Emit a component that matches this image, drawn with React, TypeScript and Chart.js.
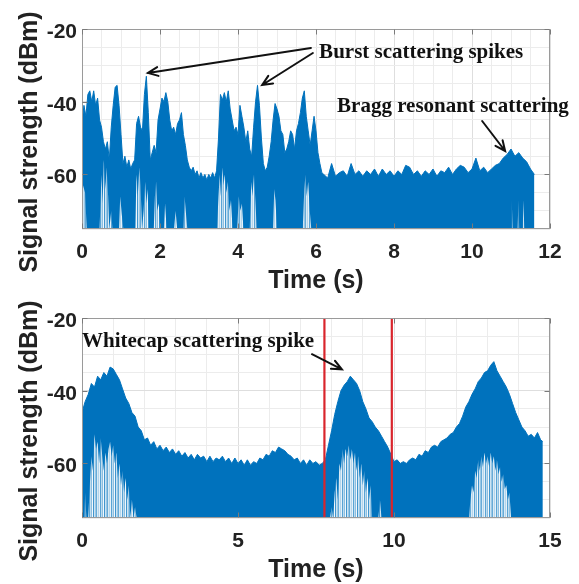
import React, { useEffect, useRef } from "react";
import { Chart, registerables } from "chart.js";

Chart.register(...registerables);

// ---------------- shared axis values ----------------
const Y_MIN = -75;
const Y_MAX = -20;
const Y_STEP = 5;
const Y_TICK_LABELS = [-20, -40, -60];

// ---------------- top panel ----------------
const TOP_X_MAX = 12;
const TOP_X_STEP = 0.5;
const TOP_X_TICK_LABELS = [0, 2, 4, 6, 8, 10, 12];

// upper envelope of the received signal, burst part (0 s .. 6.2 s every 0.05 s)
const topBurstStart = 0;
const topBurstStep = 0.05;
const topBurstUpper = [
  -46, -41, -44, -38, -37, -40, -37, -41, -39, -45,
  -47, -51, -53, -51, -56, -47, -41, -36, -35.5, -41,
  -49, -57, -55, -58, -56, -58.5, -57, -56, -46, -44,
  -47, -48, -38, -33, -43, -56, -54, -52, -54, -45,
  -42, -39, -40, -37.5, -40, -45, -48, -47, -49, -46,
  -45, -43, -49, -52, -56, -58, -59, -58, -60, -59,
  -61, -59.5, -61, -60, -61.5, -60, -61, -59.5, -61, -59,
  -50, -38, -39.5, -37.5, -40, -37, -42, -45, -48, -47,
  -49, -41, -44, -47, -51, -48, -53, -55, -47, -40,
  -35.5, -41, -50, -57, -59, -58, -55, -51, -45, -40.5,
  -42, -44, -48, -49, -54, -53, -51, -48, -49, -53,
  -48, -46, -43, -39, -37, -44, -48, -52, -48, -44,
  -48, -54, -57, -59.5, -60,
];

// upper envelope, Bragg part (6.3 s .. 11.6 s every 0.1 s)
const topFlatStart = 6.3;
const topFlatStep = 0.1;
const topFlatUpper = [
  -61, -57, -60.5, -59.5, -59, -60.5, -57, -60, -59, -60.5,
  -59, -60, -58.5, -60.5, -58.5, -60, -59, -60.5, -59, -60,
  -57.5, -58, -60, -59, -60.5, -59, -60, -58.5, -60.5, -59,
  -59.5, -58, -60, -58.5, -57.5, -58, -59.5, -58.5, -55.5, -59,
  -58, -59.5, -58.5, -57.5, -57, -55.5, -54.5, -53, -55, -54,
  -55.5, -56.5, -58.5, -60,
];

// level under which the trace becomes sparse (light streaks), [time, dBm]
const topSparse = [
  [0, -62], [0.08, -65], [0.12, -75], [0.45, -75], [0.5, -60], [0.53, -68], [0.56, -56],
  [0.6, -64], [0.63, -58], [0.67, -66], [0.7, -75], [0.75, -70], [0.78, -75], [0.95, -75],
  [0.98, -66], [1.02, -71], [1.06, -75], [1.36, -75], [1.4, -60], [1.43, -66], [1.47, -58],
  [1.5, -63], [1.54, -75], [1.58, -70], [1.62, -62], [1.65, -68], [1.68, -64], [1.72, -75],
  [1.84, -75], [1.87, -66], [1.9, -62], [1.93, -70], [1.97, -68], [2.0, -75], [2.1, -75],
  [2.13, -68], [2.17, -75], [2.36, -75], [2.4, -70], [2.44, -75], [2.6, -75], [2.63, -66],
  [2.66, -70], [2.7, -75], [3.46, -75], [3.5, -66], [3.53, -60], [3.56, -66], [3.6, -58],
  [3.63, -63], [3.66, -60], [3.7, -65], [3.74, -62], [3.78, -70], [3.82, -67], [3.86, -75],
  [3.98, -75], [4.02, -66], [4.06, -70], [4.1, -68], [4.14, -75], [4.3, -75], [4.34, -62],
  [4.37, -66], [4.41, -60], [4.45, -68], [4.48, -75], [4.9, -75], [4.93, -64], [4.96, -67],
  [5.0, -75], [5.66, -75], [5.7, -64], [5.73, -60], [5.76, -66], [5.8, -62], [5.84, -70],
  [5.88, -75], [11.0, -75], [11.02, -67], [11.04, -75], [11.17, -75], [11.19, -67],
  [11.21, -75], [11.3, -75], [11.32, -67], [11.34, -75], [11.62, -75],
];

// ---------------- bottom panel ----------------
const BOT_X_MAX = 15;
const BOT_X_STEP = 1;
const BOT_X_TICK_LABELS = [0, 5, 10, 15];

// upper envelope (0 s .. 14.7 s every 0.1 s)
const bottomStart = 0;
const bottomStep = 0.1;
const bottomUpper = [
  -46, -43, -41, -38, -39, -36, -37, -35, -36, -33.5,
  -34, -35.5, -37, -39.5, -42, -43.5, -46, -47, -50, -51,
  -53.5, -53, -55, -54, -56, -55, -56.5, -55.5, -57, -56,
  -57.5, -56.5, -58, -57, -58.5, -57.5, -59, -57.5, -58.5, -58,
  -59.5, -58, -59.5, -58.5, -59, -58, -59.5, -58.5, -60, -58.5,
  -60, -59, -60.5, -59, -60.5, -59.5, -60, -58.5, -59, -57.5,
  -58, -56.5, -57, -55.5, -56, -56.5, -57.5, -58, -59, -58.5,
  -60, -59, -60.5, -59, -60, -59.5, -60.5, -60, -59, -55,
  -51, -46.5, -43, -40, -38.5, -37.5, -36, -37, -38, -40,
  -43, -45, -47.5, -48.5, -50, -51, -52.5, -54, -55.5, -57.5,
  -59.5, -59, -60, -59.5, -60, -59, -58.5, -59, -57.5, -58,
  -56.5, -57, -55.5, -55, -55.5, -54, -53.5, -53, -52, -51.5,
  -50, -49, -47, -44.5, -43, -41, -39.5, -37.5, -36.5, -35,
  -34.5, -33, -32, -34.5, -36, -37.5, -39, -41, -43.5, -46,
  -48, -50, -51, -52.5, -52, -53, -51.5, -53.5,
];
const bottomLast = [14.77, -54];

const bottomSparse = [
  [0, -75], [0.08, -75], [0.1, -68], [0.14, -75], [0.2, -75], [0.25, -66], [0.3, -58],
  [0.35, -62], [0.4, -52], [0.45, -56], [0.5, -54], [0.55, -60], [0.6, -53], [0.65, -58],
  [0.7, -62], [0.75, -57], [0.8, -60], [0.85, -56], [0.9, -54], [0.95, -58], [1.0, -55],
  [1.05, -60], [1.1, -57], [1.15, -64], [1.2, -60], [1.25, -66], [1.3, -62], [1.35, -68],
  [1.4, -64], [1.45, -70], [1.5, -66], [1.55, -75], [1.6, -70], [1.65, -75], [1.7, -72],
  [1.75, -75], [7.95, -75], [8.0, -72], [8.05, -75], [8.1, -68], [8.15, -64], [8.2, -70],
  [8.25, -60], [8.3, -62], [8.35, -56], [8.4, -60], [8.45, -56], [8.5, -58], [8.55, -55],
  [8.6, -59], [8.65, -56], [8.7, -60], [8.75, -57], [8.8, -62], [8.85, -58], [8.9, -64],
  [8.95, -60], [9.0, -66], [9.05, -62], [9.1, -68], [9.15, -64], [9.2, -70], [9.25, -66],
  [9.3, -75], [9.5, -75], [9.55, -70], [9.6, -75], [12.4, -75], [12.45, -70], [12.5, -66],
  [12.55, -68], [12.6, -62], [12.65, -64], [12.7, -59], [12.75, -62], [12.8, -58],
  [12.85, -61], [12.9, -57], [12.95, -60], [13.0, -58], [13.05, -61], [13.1, -57],
  [13.15, -60], [13.2, -58], [13.25, -62], [13.3, -59], [13.35, -63], [13.4, -61],
  [13.45, -65], [13.5, -63], [13.55, -67], [13.6, -66], [13.65, -70], [13.7, -68],
  [13.75, -75], [14.77, -75],
];

// window markers (s)
const bottomMarkers = [7.77, 9.93];

// ---------------- styling ----------------
const BLUE = "#0072BD";
const RED = "#D9252C";
const SANS = "'Liberation Sans', Arial, sans-serif";
const SERIF = "'Liberation Serif', 'Times New Roman', serif";
const W = 579;
const PLOT_LEFT = 82;
const PLOT_RIGHT = 550;
const PLOT_TOP = 29;
const PLOT_BOTTOM = 229;

const seq = (start: number, step: number, vals: number[]) =>
  vals.map((v, i) => ({ x: +(start + i * step).toFixed(3), y: v }));
const pairs = (list: number[][]) => list.map(([x, y]) => ({ x, y }));

// streaky whitish texture for the sparse (thin-trace) part of the signal
function makeStreakPattern(ctx: CanvasRenderingContext2D) {
  const c = document.createElement("canvas");
  const alphas = [0.9, 0.35, 0.75, 0.55, 0.95, 0.25, 0.8, 0.6, 0.4, 0.85, 0.7];
  c.width = alphas.length;
  c.height = 1;
  const pc = c.getContext("2d")!;
  alphas.forEach((a, i) => {
    pc.fillStyle = `rgba(255,255,255,${a})`;
    pc.fillRect(i, 0, 1, 1);
  });
  return ctx.createPattern(c, "repeat");
}

const decorPlugin = {
  id: "decor",
  afterDraw(chart: any, _args: any, opts: any) {
    const { ctx, chartArea: a } = chart;
    const xs = chart.scales.x;
    const ys = chart.scales.y;
    ctx.save();
    const L = Math.round(a.left) + 0.5;
    const R = Math.round(a.right) - 0.5;
    const T = Math.round(a.top) + 0.5;
    const B = Math.round(a.bottom) - 0.5;
    ctx.strokeStyle = "#9a9a9a";
    ctx.lineWidth = 1;
    ctx.strokeRect(L, T, R - L, B - T);
    ctx.strokeStyle = "#7a7a7a";
    ctx.beginPath();
    for (const v of opts.majorX) {
      const px = Math.round(xs.getPixelForValue(v)) + 0.5;
      ctx.moveTo(px, B);
      ctx.lineTo(px, B - 5);
      ctx.moveTo(px, T);
      ctx.lineTo(px, T + 5);
    }
    for (const v of opts.majorY) {
      const py = Math.round(ys.getPixelForValue(v)) + 0.5;
      ctx.moveTo(L, py);
      ctx.lineTo(L + 5, py);
      ctx.moveTo(R, py);
      ctx.lineTo(R - 5, py);
    }
    ctx.stroke();

    ctx.fillStyle = "#222";
    ctx.font = `bold 25px ${SANS}`;
    ctx.textAlign = "center";
    ctx.textBaseline = "alphabetic";
    ctx.fillText(opts.xTitle, (a.left + a.right) / 2, opts.xTitleBaseline);
    ctx.save();
    ctx.translate(opts.yTitleBaselineX, opts.yTitleCenterY);
    ctx.rotate(-Math.PI / 2);
    ctx.fillText(opts.yTitle, 0, 0);
    ctx.restore();

    ctx.fillStyle = "#111";
    ctx.font = `bold 21px ${SERIF}`;
    ctx.textAlign = "left";
    for (const t of opts.texts) {
      ctx.fillText(t.text, xs.getPixelForValue(t.x), ys.getPixelForValue(t.y));
    }
    ctx.strokeStyle = "#111";
    ctx.lineWidth = 2;
    ctx.lineCap = "round";
    for (const ar of opts.arrows) {
      const x1 = xs.getPixelForValue(ar.x1);
      const y1 = ys.getPixelForValue(ar.y1);
      const x2 = xs.getPixelForValue(ar.x2);
      const y2 = ys.getPixelForValue(ar.y2);
      const ang = Math.atan2(y2 - y1, x2 - x1);
      const hl = 11;
      const spread = 0.42;
      ctx.beginPath();
      ctx.moveTo(x1, y1);
      ctx.lineTo(x2, y2);
      ctx.moveTo(x2 - hl * Math.cos(ang - spread), y2 - hl * Math.sin(ang - spread));
      ctx.lineTo(x2, y2);
      ctx.lineTo(x2 - hl * Math.cos(ang + spread), y2 - hl * Math.sin(ang + spread));
      ctx.stroke();
    }
    ctx.restore();
  },
};

type PanelCfg = {
  upper: { x: number; y: number }[];
  sparse: { x: number; y: number }[];
  markers: number[];
  xMax: number;
  xStep: number;
  xLabels: number[];
  texts: any[];
  arrows: any[];
};

function Panel({ top, height, cfg }: { top: number; height: number; cfg: PanelCfg }) {
  const ref = useRef<HTMLCanvasElement | null>(null);
  useEffect(() => {
    if (!ref.current) return;
    const ctx2d = ref.current.getContext("2d")!;
    const streaks = makeStreakPattern(ctx2d) || "rgba(255,255,255,0.55)";
    const near = (v: number, list: number[]) => list.some((l) => Math.abs(l - v) < 1e-6);
    const tickFont = { family: SANS, weight: "bold" as const, size: 21 };
    const datasets: any[] = [
      {
        label: "signal",
        data: cfg.upper,
        borderColor: BLUE,
        backgroundColor: BLUE,
        borderWidth: 1,
        pointRadius: 0,
        fill: "start",
        tension: 0,
        order: 3,
      },
      {
        label: "sparse",
        data: cfg.sparse,
        borderColor: "rgba(0,0,0,0)",
        backgroundColor: streaks,
        borderWidth: 0,
        pointRadius: 0,
        fill: "start",
        tension: 0,
        order: 2,
      },
      ...cfg.markers.map((m) => ({
        label: "marker",
        data: [
          { x: m, y: Y_MIN },
          { x: m, y: Y_MAX },
        ],
        borderColor: RED,
        borderWidth: 2.2,
        pointRadius: 0,
        fill: false,
        order: 1,
      })),
    ];
    const chart = new Chart(ref.current, {
      type: "line",
      data: { datasets },
      plugins: [decorPlugin],
      options: {
        animation: false,
        responsive: false,
        devicePixelRatio: 1,
        events: [],
        layout: { padding: { left: 0, right: W - PLOT_RIGHT, top: PLOT_TOP, bottom: 0 } },
        plugins: {
          legend: { display: false },
          tooltip: { enabled: false },
          decor: {
            majorX: cfg.xLabels,
            majorY: Y_TICK_LABELS,
            xTitle: "Time (s)",
            xTitleBaseline: 288,
            yTitle: "Signal strength (dBm)",
            yTitleBaselineX: 37,
            yTitleCenterY: 142,
            texts: cfg.texts,
            arrows: cfg.arrows,
          },
        } as any,
        scales: {
          x: {
            type: "linear",
            min: 0,
            max: cfg.xMax,
            afterFit: (s: any) => {
              s.height = height - PLOT_BOTTOM;
            },
            ticks: {
              stepSize: cfg.xStep,
              autoSkip: false,
              maxRotation: 0,
              minRotation: 0,
              padding: 11,
              color: "#222",
              font: tickFont,
              callback: (v: any) => (near(Number(v), cfg.xLabels) ? String(Math.round(Number(v))) : ""),
            },
            grid: {
              drawTicks: false,
              lineWidth: 1,
              color: (c: any) => (c.tick && near(c.tick.value, cfg.xLabels) ? "#dedede" : "#ececec"),
            },
            border: { display: false },
          },
          y: {
            type: "linear",
            min: Y_MIN,
            max: Y_MAX,
            afterFit: (s: any) => {
              s.width = PLOT_LEFT;
            },
            ticks: {
              stepSize: Y_STEP,
              autoSkip: false,
              padding: 5,
              labelOffset: 3,
              color: "#222",
              font: tickFont,
              callback: (v: any) => (near(Number(v), Y_TICK_LABELS) ? String(Math.round(Number(v))) : ""),
            },
            grid: {
              drawTicks: false,
              lineWidth: 1,
              color: (c: any) => (c.tick && near(c.tick.value, Y_TICK_LABELS) ? "#dedede" : "#ececec"),
            },
            border: { display: false },
          },
        },
      } as any,
    });
    return () => chart.destroy();
  }, []);
  return (
    <canvas
      ref={ref}
      width={W}
      height={height}
      style={{ position: "absolute", left: 0, top, width: W, height, display: "block" }}
    />
  );
}

const topCfg: PanelCfg = {
  upper: [...seq(topBurstStart, topBurstStep, topBurstUpper), ...seq(topFlatStart, topFlatStep, topFlatUpper)],
  sparse: pairs(topSparse),
  markers: [],
  xMax: TOP_X_MAX,
  xStep: TOP_X_STEP,
  xLabels: TOP_X_TICK_LABELS,
  texts: [
    { text: "Burst scattering spikes", x: 6.08, y: -27.98 },
    { text: "Bragg resonant scattering", x: 6.54, y: -42.83 },
  ],
  arrows: [
    { x1: 5.87, y1: -25.2, x2: 1.69, y2: -32.1 },
    { x1: 5.92, y1: -26.6, x2: 4.62, y2: -35.4 },
    { x1: 10.26, y1: -45.3, x2: 10.85, y2: -53.55 },
  ],
};

const bottomCfg: PanelCfg = {
  upper: [...seq(bottomStart, bottomStep, bottomUpper), { x: bottomLast[0], y: bottomLast[1] }],
  sparse: pairs(bottomSparse),
  markers: bottomMarkers,
  xMax: BOT_X_MAX,
  xStep: BOT_X_STEP,
  xLabels: BOT_X_TICK_LABELS,
  texts: [{ text: "Whitecap scattering spike", x: 0, y: -28.0 }],
  arrows: [{ x1: 7.37, y1: -29.95, x2: 8.33, y2: -34.1 }],
};

export default function App() {
  return (
    <div style={{ position: "fixed", left: 0, top: 0, width: W, height: 584, background: "#fff" }}>
      <Panel top={0} height={300} cfg={topCfg} />
      <Panel top={289} height={295} cfg={bottomCfg} />
    </div>
  );
}
